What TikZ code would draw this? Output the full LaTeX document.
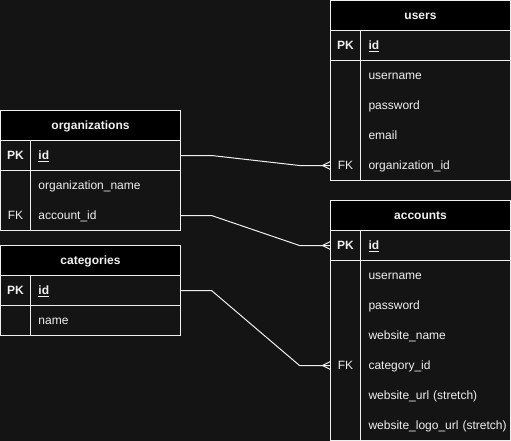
\documentclass[tikz,border=0pt]{standalone}
\usepackage{fontspec}
\setmainfont{Liberation Sans}
\definecolor{bg}{HTML}{141414}
\definecolor{ink}{HTML}{F0F0F0}
\begin{document}
\begin{tikzpicture}[x=1pt,y=-1pt,
  font=\fontsize{12}{14}\selectfont, text=ink,
  txt/.style={text height=10.9pt, text depth=2.6pt},
  box/.style={draw=ink, line width=1pt, fill=bg, inner sep=0pt, outer sep=0pt, anchor=north west, txt},
  hdr/.style={box, fill=black, minimum width=180pt, minimum height=30pt, font=\fontsize{12}{14}\selectfont\bfseries},
  keycell/.style={box, minimum width=30pt, minimum height=30pt},
  fieldcell/.style={box, minimum width=150pt, minimum height=30pt, text width=150pt, align=left,
    execute at begin node=\hspace*{8pt}},
  keyframe/.style={box, minimum width=30pt, minimum height=#1},
  fieldframe/.style={box, minimum width=150pt, minimum height=#1},
  keylbl/.style={inner sep=0pt, outer sep=0pt, anchor=north west, minimum width=30pt, minimum height=30pt, txt},
  fieldlbl/.style={inner sep=0pt, outer sep=0pt, anchor=north west, minimum width=150pt, minimum height=30pt,
    text width=150pt, align=left, txt, execute at begin node=\hspace*{8pt}},
  conn/.style={draw=ink, line width=1pt},
  crowfoot/.pic={\draw[conn] (0,-4) -- (-8,0) -- (0,4);}
]
\fill[bg] (0,0) rectangle (511,441);
\useasboundingbox (0,0) rectangle (511,441);

% ---- users ----
\node[hdr] (usr) at (330.5,0.5) {users};
\node[keycell, font=\fontsize{12}{14}\selectfont\bfseries] (usrPKk) at (330.5,30.5) {PK};
\node[fieldcell, font=\fontsize{12}{14}\selectfont\bfseries] (usrPK) at (360.5,30.5) {\underline{id}};
\node[keyframe=120pt] (usrBk) at (330.5,60.5) {};
\node[fieldframe=120pt] (usrBf) at (360.5,60.5) {};
\node[fieldlbl] (usrF1) at (360.5,60.5) {username};
\node[fieldlbl] (usrF2) at (360.5,90.5) {password};
\node[fieldlbl] (usrF3) at (360.5,120.5) {email};
\node[keylbl] (usrFK) at (330.5,150.5) {FK};
\node[fieldlbl] (usrF4) at (360.5,150.5) {organization\_id};

% ---- organizations ----
\node[hdr] (org) at (0.5,110.5) {organizations};
\node[keycell, font=\fontsize{12}{14}\selectfont\bfseries] (orgPKk) at (0.5,140.5) {PK};
\node[fieldcell, font=\fontsize{12}{14}\selectfont\bfseries] (orgPK) at (30.5,140.5) {\underline{id}};
\node[keyframe=60pt] (orgBk) at (0.5,170.5) {};
\node[fieldframe=60pt] (orgBf) at (30.5,170.5) {};
\node[fieldlbl] (orgF1) at (30.5,170.5) {organization\_name};
\node[keylbl] (orgFK) at (0.5,200.5) {FK};
\node[fieldlbl] (orgF2) at (30.5,200.5) {account\_id};

% ---- categories ----
\node[hdr] (cat) at (0.5,245.5) {categories};
\node[keycell, font=\fontsize{12}{14}\selectfont\bfseries] (catPKk) at (0.5,275.5) {PK};
\node[fieldcell, font=\fontsize{12}{14}\selectfont\bfseries] (catPK) at (30.5,275.5) {\underline{id}};
\node[keyframe=30pt] (catBk) at (0.5,305.5) {};
\node[fieldframe=30pt] (catBf) at (30.5,305.5) {};
\node[fieldlbl] (catF1) at (30.5,305.5) {name};

% ---- accounts ----
\node[hdr] (acc) at (330.5,200.5) {accounts};
\node[keycell, font=\fontsize{12}{14}\selectfont\bfseries] (accPKk) at (330.5,230.5) {PK};
\node[fieldcell, font=\fontsize{12}{14}\selectfont\bfseries] (accPK) at (360.5,230.5) {\underline{id}};
\node[keyframe=180pt] (accBk) at (330.5,260.5) {};
\node[fieldframe=180pt] (accBf) at (360.5,260.5) {};
\node[fieldlbl] (accF1) at (360.5,260.5) {username};
\node[fieldlbl] (accF2) at (360.5,290.5) {password};
\node[fieldlbl] (accF3) at (360.5,320.5) {website\_name};
\node[keylbl] (accFK) at (330.5,350.5) {FK};
\node[fieldlbl] (accF4) at (360.5,350.5) {category\_id};
\node[fieldlbl] (accF5) at (360.5,380.5) {website\_url (stretch)};
\node[fieldlbl] (accF6) at (360.5,410.5) {website\_logo\_url (stretch)};

% ---- relations ----
\draw[conn] (orgPK.east) -- ++(31,0) -- ([xshift=-31pt]usrFK.west) -- (usrFK.west);
\pic at (usrFK.west) {crowfoot};
\draw[conn] (orgF2.east) -- ++(31,0) -- ([xshift=-31pt]accPKk.west) -- (accPKk.west);
\pic at (accPKk.west) {crowfoot};
\draw[conn] (catPK.east) -- ++(31,0) -- ([xshift=-31pt]accFK.west) -- (accFK.west);
\pic at (accFK.west) {crowfoot};
\end{tikzpicture}
\end{document}
